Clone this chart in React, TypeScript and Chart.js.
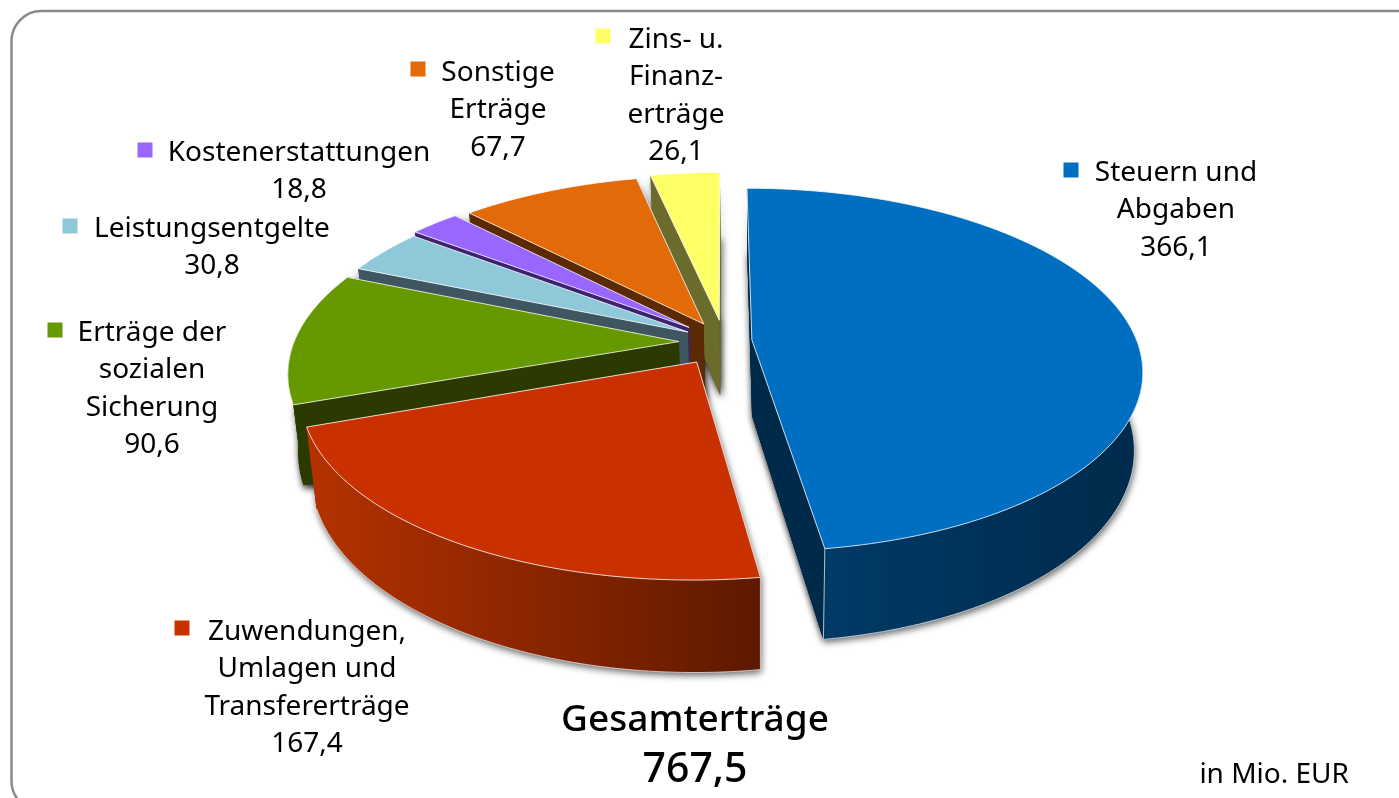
import React, { useEffect, useRef } from "react";
import { Chart, registerables } from "chart.js";

Chart.register(...registerables);

const categories = ["Steuern und Abgaben", "Zuwendungen, Umlagen und Transfererträge", "Erträge der sozialen Sicherung", "Leistungsentgelte", "Kostenerstattungen", "Sonstige Erträge", "Zins- u. Finanzerträge"];
const values = [366.1, 167.4, 90.6, 30.8, 18.8, 67.7, 26.1];
const valueLabels = ["366,1", "167,4", "90,6", "30,8", "18,8", "67,7", "26,1"];
const labelLines = [
  ["Steuern und", "Abgaben"],
  ["Zuwendungen,", "Umlagen und", "Transfererträge"],
  ["Erträge der", "sozialen", "Sicherung"],
  ["Leistungsentgelte"],
  ["Kostenerstattungen"],
  ["Sonstige", "Erträge"],
  ["Zins- u.", "Finanz-", "erträge"],
];
const totalTitle = "Gesamterträge";
const totalValue = "767,5";
const unitNote = "in Mio. EUR";

const topColors = ["#006EC1", "#C93200", "#669900", "#8FC9D9", "#9966FF", "#E26A08", "#FFFF66"];
const wallLeft = ["#003A66", "#B53200", "#2B3A00", "#3F5560", "#3C2270", "#5C2A02", "#6B6B2E"];
const wallRight = ["#002A4A", "#5E1900", "#2B3A00", "#3F5560", "#3C2270", "#5C2A02", "#6B6B2E"];
const sideColors = ["#002B4D", "#8A2400", "#2B3A00", "#3F5560", "#3C2270", "#5C2A02", "#6B6B2E"];

// label placement: text centre x, first line centre y, marker centre
const labelPos = [
  { x: 1176, y: 173, mx: 1071, my: 170 },
  { x: 307, y: 632, mx: 182, my: 628 },
  { x: 152, y: 333, mx: 55, my: 330 },
  { x: 212, y: 229, mx: 70, my: 226 },
  { x: 299, y: 153, mx: 145, my: 150 },
  { x: 498, y: 73, mx: 418, my: 69 },
  { x: 676, y: 40, mx: 603, my: 36 },
];
const nudges = [[2, -1], [0, 6], [-1, 0], [3, -2], [0, -4], [5, -4], [8, -6]];

const FONT = '"Noto Sans"';
const CX = 715, CY = 342, RX = 385, A = 177, B = 0.165, H = 76, VX = 760, CONV = 0.022;

const sliceGeometry = (el: any, i: number) => {
  const t0 = el.startAngle + Math.PI / 2;
  const t1 = el.endAngle + Math.PI / 2;
  const tm = (t0 + t1) / 2;
  const e = el.options.offset / RX;
  const [nx, ny] = nudges[i];
  const ox = Math.sin(tm) * e, oy = -Math.cos(tm) * e;
  const P = (X: number, Y: number, z: number): [number, number] => {
    const s = 1 / (1 - B * Y);
    const x = CX + nx + X * RX * s;
    return [VX + (x - VX) * (1 - (CONV * z) / H), CY + ny + A * Y * s + z * s];
  };
  const rim = (t: number, z: number) => P(ox + Math.sin(t), oy - Math.cos(t), z);
  const tip = (z: number) => P(ox, oy, z);
  const steps = Math.max(2, Math.ceil((t1 - t0) / (Math.PI / 180)));
  const ts: number[] = [];
  for (let k = 0; k <= steps; k++) ts.push(t0 + ((t1 - t0) * k) / steps);
  return { t0, t1, rim, tip, ts };
};

const pie3d = {
  id: "pie3d",
  beforeDraw(chart: any) {
    const c = chart.ctx;
    c.save();
    c.fillStyle = "#fff";
    c.fillRect(0, 0, chart.width, chart.height);
    c.strokeStyle = "#8a8a8a";
    c.lineWidth = 2.5;
    c.beginPath();
    c.roundRect(11.5, 11, 1500, 800, 30);
    c.stroke();
    c.restore();
  },
  beforeDatasetsDraw(chart: any) {
    const c = chart.ctx;
    const arcs = chart.getDatasetMeta(0).data;
    const order = [6, 5, 4, 3, 2, 1, 0];

    // shadow pass: every slice's lower body, before any face is painted
    for (const i of order) {
      const { t0, t1, rim, tip, ts } = sliceGeometry(arcs[i], i);
      c.save();
      c.shadowColor = "rgba(0,0,0,0.6)";
      c.shadowBlur = 7;
      c.shadowOffsetX = 1;
      c.shadowOffsetY = 3;
      c.fillStyle = sideColors[i];
      c.beginPath();
      const first = tip(H);
      c.moveTo(first[0], first[1]);
      for (const t of ts) { const p = rim(t, H); c.lineTo(p[0], p[1]); }
      c.closePath();
      c.fill();
      for (const w of [t0, t1]) {
        const p = rim(w, 0), q = rim(w, H), a = tip(0), b = tip(H);
        c.beginPath();
        c.moveTo(a[0], a[1]); c.lineTo(p[0], p[1]); c.lineTo(q[0], q[1]); c.lineTo(b[0], b[1]);
        c.closePath();
        c.fill();
      }
      c.restore();
    }

    for (const i of order) {
      const { t0, t1, rim, tip, ts } = sliceGeometry(arcs[i], i);

      // radial walls, back one first
      const y0 = -Math.cos(t0), y1 = -Math.cos(t1);
      const wallsOrdered = y0 < y1 ? [t0, t1] : [t1, t0];
      for (const w of wallsOrdered) {
        const p = rim(w, 0), q = rim(w, H), a = tip(0), b = tip(H);
        c.beginPath();
        c.moveTo(a[0], a[1]); c.lineTo(p[0], p[1]); c.lineTo(q[0], q[1]); c.lineTo(b[0], b[1]);
        c.closePath();
        c.fillStyle = i === 1 ? wallLeft[i] : i === 0 ? wallRight[0] : sideColors[i];
        c.fill();
      }

      // outer curved wall
      const outer = ts.filter((t) => -Math.cos(t) > -0.02);
      if (outer.length > 1) {
        const xs = outer.map((t) => rim(t, 0)[0]);
        const g = c.createLinearGradient(Math.min(...xs), 0, Math.max(...xs), 0);
        g.addColorStop(0, wallLeft[i]);
        g.addColorStop(1, wallRight[i]);
        c.beginPath();
        outer.forEach((t, k) => { const p = rim(t, 0); k ? c.lineTo(p[0], p[1]) : c.moveTo(p[0], p[1]); });
        [...outer].reverse().forEach((t) => { const p = rim(t, H); c.lineTo(p[0], p[1]); });
        c.closePath();
        c.fillStyle = g;
        c.fill();
        if (i <= 1) {
          c.strokeStyle = "rgba(235,240,245,0.75)";
          c.lineWidth = 1;
          c.beginPath();
          outer.forEach((t, k) => { const p = rim(t, H); k ? c.lineTo(p[0], p[1]) : c.moveTo(p[0], p[1]); });
          c.stroke();
          for (const t of [outer[0], outer[outer.length - 1]]) {
            const p = rim(t, 0), q = rim(t, H);
            if (Math.abs(Math.sin(t)) < 0.9) {
              c.beginPath(); c.moveTo(p[0], p[1]); c.lineTo(q[0], q[1]); c.stroke();
            }
          }
        }
      }

      // top face
      c.beginPath();
      const t00 = tip(0);
      c.moveTo(t00[0], t00[1]);
      for (const t of ts) { const p = rim(t, 0); c.lineTo(p[0], p[1]); }
      c.closePath();
      c.fillStyle = topColors[i];
      c.fill();
      c.strokeStyle = "rgba(255,255,255,0.8)";
      c.lineWidth = 1;
      c.stroke();
    }
    return false;
  },
  afterDraw(chart: any) {
    const c = chart.ctx;
    c.save();
    c.textAlign = "center";
    c.textBaseline = "middle";
    c.font = `28px ${FONT}`;
    const LH = 37.4;
    categories.forEach((_, i) => {
      const pos = labelPos[i];
      const lines = [...labelLines[i], valueLabels[i]];
      c.fillStyle = "#000";
      lines.forEach((ln, k) => c.fillText(ln, pos.x, pos.y + k * LH));
      c.fillStyle = topColors[i];
      c.fillRect(pos.mx - 7.5, pos.my - 7.5, 15, 15);
    });
    c.fillStyle = "#000";
    c.font = `500 37px ${FONT}`;
    c.fillText(totalTitle, 695, 720);
    c.font = `500 41px ${FONT}`;
    c.fillText(totalValue, 695, 770);
    c.font = `28px ${FONT}`;
    c.textAlign = "right";
    c.fillText(unitNote, 1349, 775);
    c.restore();
  },
};

export default function App() {
  const ref = useRef<HTMLCanvasElement>(null);
  useEffect(() => {
    document.body.style.margin = "0";
    const chart = new Chart(ref.current as HTMLCanvasElement, {
      type: "pie",
      data: {
        labels: categories,
        datasets: [{ data: values, offset: 35, backgroundColor: topColors, borderWidth: 0 }],
      },
      options: {
        responsive: false,
        animation: false,
        plugins: { legend: { display: false }, tooltip: { enabled: false } },
      },
      plugins: [pie3d],
    } as any);
    return () => chart.destroy();
  }, []);
  return <canvas ref={ref} width={1399} height={798} style={{ display: "block" }} />;
}
